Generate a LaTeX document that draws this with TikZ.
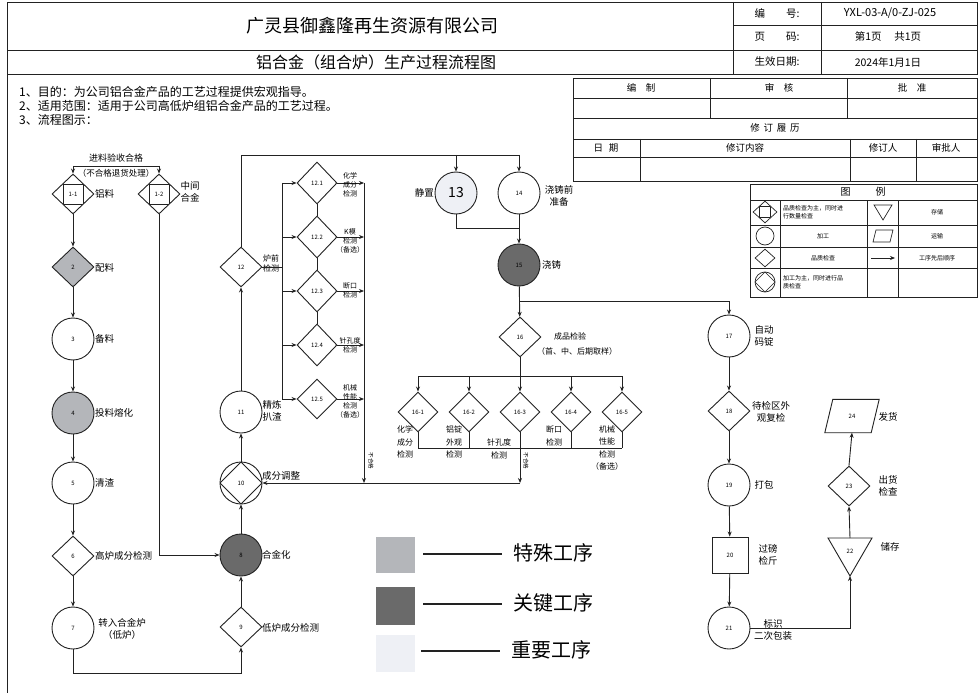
\documentclass[tikz,border=0pt]{standalone}
\usepackage{fontspec}
\setmainfont{Noto Sans CJK SC}
\usetikzlibrary{shapes.geometric,arrows.meta}
\definecolor{spec}{HTML}{B4B6BA}
\definecolor{keyc}{HTML}{6A6A6A}
\definecolor{imp}{HTML}{EEF0F5}
\definecolor{ink}{HTML}{222222}
\tikzset{
  ln/.style={draw=ink, line width=0.9pt},
  frm/.style={draw=ink, line width=0.8pt},
  arr/.style={ln, -{Stealth[length=5pt,width=4pt]}},
  num/.style={font=\fontsize{6}{6}\selectfont, inner sep=0pt},
  proc/.style={circle, draw=ink, line width=0.9pt, minimum size=42pt, inner sep=0pt, font=\fontsize{6}{6}\selectfont},
  insp/.style={diamond, draw=ink, line width=0.9pt, minimum width=42pt, minimum height=40pt, inner sep=0pt, font=\fontsize{6}{6}\selectfont},
  inspt/.style={insp, minimum width=40pt, minimum height=42pt},
  insq/.style={insp, path picture={\draw[ink, line width=0.8pt] ([shift={(-10pt,-10pt)}]path picture bounding box.center) rectangle ([shift={(10pt,10pt)}]path picture bounding box.center);}},
  pq/.style={proc, path picture={\draw[ink, line width=0.8pt] (path picture bounding box.north) -- (path picture bounding box.east) -- (path picture bounding box.south) -- (path picture bounding box.west) -- cycle;}},
  lab/.style={font=\fontsize{9.5}{11.5}\selectfont, align=center, inner sep=0pt},
  labs/.style={font=\fontsize{7}{9}\selectfont, align=center, inner sep=0pt},
  labm/.style={font=\fontsize{8}{12.5}\selectfont, align=center, inner sep=0pt},
  tb/.style={font=\fontsize{9.5}{9.5}\selectfont, inner sep=0pt},
  lg/.style={font=\fontsize{6}{7.5}\selectfont, align=left, inner sep=0pt},
  intro/.style={font=\fontsize{12}{12}\selectfont, anchor=west, inner sep=0pt},
  big/.style={font=\fontsize{20}{20}\selectfont, inner sep=0pt, anchor=west}
}
\begin{document}
\begin{tikzpicture}[x=1pt,y=-1pt]
\useasboundingbox (0,0) rectangle (979,695);
\fill[white] (0,0) rectangle (979,695);
% ---------- header ----------
\draw[frm] (7,2) rectangle (977,74);
\draw[frm] (7,50) -- (977,50);
\draw[frm] (733,2) -- (733,74) (821,2) -- (821,74) (733,25) -- (977,25);
\draw[frm] (7,74) -- (7,693);
\node[font=\fontsize{18}{18}\selectfont] (title) at (372,26) {广灵县御鑫隆再生资源有限公司};
\node[font=\fontsize{16}{16}\selectfont] (subtitle) at (376,62) {铝合金（组合炉）生产过程流程图};
\node[tb, font=\fontsize{10.5}{10.5}\selectfont] (h1) at (777,13) {编\hspace{2em}号:};
\node[tb, font=\fontsize{10.5}{10.5}\selectfont] (h2) at (777,37) {页\hspace{2em}码:};
\node[tb, font=\fontsize{10.5}{10.5}\selectfont] (h3) at (777,62) {生效日期:};
\node[tb, font=\fontsize{11}{11}\selectfont] (v1) at (890,13) {YXL-03-A/0-ZJ-025};
\node[tb, font=\fontsize{10.5}{10.5}\selectfont] (v2) at (888,37) {第1页\hspace{1.2em}共1页};
\node[tb, font=\fontsize{10.5}{10.5}\selectfont] (v3) at (888,62) {2024年1月1日};
% ---------- intro text ----------
\node[intro] (t1) at (19,92) {1、目的：为公司铝合金产品的工艺过程提供宏观指导。};
\node[intro] (t2) at (19,106) {2、适用范围：适用于公司高低炉组铝合金产品的工艺过程。};
\node[intro] (t3) at (19,120) {3、流程图示：};
% ---------- approval / revision table ----------
\draw[frm] (573,78) rectangle (977,181);
\draw[frm] (573,98) -- (977,98) (573,118) -- (977,118) (573,139) -- (977,139) (573,157) -- (977,157);
\draw[frm] (710,78) -- (710,118) (847,78) -- (847,118);
\draw[frm] (640,139) -- (640,181) (850,139) -- (850,181) (916,139) -- (916,181);
\node[tb] (a1) at (641,88) {编\hspace{1em}制};
\node[tb] (a2) at (779,88) {审\hspace{1em}核};
\node[tb] (a3) at (912,88) {批\hspace{1em}准};
\node[tb] (a4) at (775,128) {修\hspace{0.4em}订\hspace{0.4em}履\hspace{0.4em}历};
\node[tb] (a5) at (606,148) {日\hspace{0.6em}期};
\node[tb] (a6) at (745,148) {修订内容};
\node[tb] (a7) at (883,148) {修订人};
\node[tb] (a8) at (946,148) {审批人};
% ---------- legend table ----------
\draw[frm] (750,184) rectangle (977,297);
\draw[frm] (750,200) -- (977,200) (750,225) -- (977,225) (750,247) -- (977,247) (750,268) -- (977,268);
\draw[frm] (780,200) -- (780,297) (867,200) -- (867,297) (898,200) -- (898,297);
\node[tb,font=\fontsize{10}{10}\selectfont] (lgh) at (863,192) {图\hspace{2.5em}例};
\node[diamond, draw=ink, line width=0.7pt, minimum width=24pt, minimum height=22pt, inner sep=0pt,
      path picture={\draw[ink,line width=0.6pt] ([shift={(-5.5pt,-5.5pt)}]path picture bounding box.center) rectangle ([shift={(5.5pt,5.5pt)}]path picture bounding box.center);}] (lgs1) at (765,212) {};
\node[lg, anchor=west] (lgt1) at (783,212) {品质检查为主，同时进\\行数量检查};
\draw[ln, line width=0.7pt] (874,205) -- (892,205) -- (883,220) -- cycle;
\node[lg] (lgt1b) at (937,212) {存储};
\node[circle, draw=ink, line width=0.7pt, minimum size=18pt, inner sep=0pt] (lgs2) at (765,236) {};
\node[lg] (lgt2) at (823,236) {加工};
\draw[ln, line width=0.7pt] (876,230) -- (893,230) -- (890,242) -- (873,242) -- cycle;
\node[lg] (lgt2b) at (937,236) {运输};
\node[diamond, draw=ink, line width=0.7pt, minimum width=20pt, minimum height=18pt, inner sep=0pt] (lgs3) at (765,258) {};
\node[lg] (lgt3) at (823,258) {品质检查};
\coordinate (lga1) at (871,258); \coordinate (lga2) at (895,258);
\draw[arr, line width=0.7pt] (lga1) -- (lga2);
\node[lg] (lgt3b) at (937,258) {工序先后顺序};
\node[circle, draw=ink, line width=0.7pt, minimum size=20pt, inner sep=0pt,
      path picture={\draw[ink,line width=0.6pt] (path picture bounding box.north) -- (path picture bounding box.east) -- (path picture bounding box.south) -- (path picture bounding box.west) -- cycle;}] (lgs4) at (765,282) {};
\node[lg, anchor=west] (lgt4) at (783,282) {加工为主，同时进行品\\质检查};
% ---------- left column ----------
\coordinate (brL) at (73,166); \coordinate (brR) at (159,166);
\draw[ln] (brL) -- (brR);
\node[insq] (n1a) at (73,194) {1-1};
\node[insq] (n1b) at (159,194) {1-2};
\draw[arr] (brL) -- (n1a.north);
\draw[arr] (brR) -- (n1b.north);
\node[lab, font=\fontsize{9}{9}\selectfont] (brt1) at (116,158) {进料验收合格};
\node[lab, font=\fontsize{8.5}{9}\selectfont] (brt2) at (116,173) {（不合格退货处理）};
\node[lab, anchor=west] (l1a) at (95,194) {铝料};
\node[lab] (l1b) at (190,192) {中间\\合金};
\node[insp, fill=spec] (n2) at (73,267) {2};
\node[lab, anchor=west] (l2) at (95,268) {配料};
\node[proc] (n3) at (73,339) {3};
\node[lab, anchor=west] (l3) at (95,339) {备料};
\node[proc, fill=spec] (n4) at (73,413) {4};
\node[lab, anchor=west] (l4) at (95,413) {投料熔化};
\node[proc] (n5) at (73,483) {5};
\node[lab, anchor=west] (l5) at (95,483) {清渣};
\node[insp] (n6) at (73,556) {6};
\node[lab, anchor=west] (l6) at (95,556) {高炉成分检测};
\node[proc] (n7) at (73,628) {7};
\node[lab] (l7) at (122,629) {转入合金炉\\（低炉）};
\draw[arr] (n1a) -- (n2);
\draw[arr] (n2) -- (n3);
\draw[arr] (n3) -- (n4);
\draw[arr] (n4) -- (n5);
\draw[arr] (n5) -- (n6);
\draw[arr] (n6) -- (n7);
% ---------- second column ----------
\node[insp] (n9) at (241,627) {9};
\node[lab, anchor=west] (l9) at (262,628) {低炉成分检测};
\node[proc, fill=keyc] (n8) at (241,555) {8};
\node[lab, anchor=west] (l8) at (262,555) {合金化};
\node[pq] (n10) at (241,483) {10};
\node[lab, anchor=west] (l10) at (262,476) {成分调整};
\node[proc] (n11) at (241,412) {11};
\node[lab] (l11) at (272,411) {精炼\\扒渣};
\node[insp] (n12) at (241,267) {12};
\node[labs, font=\fontsize{8}{10}\selectfont] (l12) at (271,263) {炉前\\检测};
\coordinate (b7) at (73,673);
\draw[arr] (n7.south) -- (b7) -| (n9.south);
\draw[arr] (n1b.south) |- (n8.west);
\draw[arr] (n9) -- (n8);
\draw[arr] (n8) -- (n10);
\draw[arr] (n10) -- (n11);
\draw[arr] (n11) -- (n12);
% ---------- furnace tests 12.x ----------
\node[inspt] (n121) at (317,183) {12.1};
\node[inspt] (n122) at (317,237) {12.2};
\node[inspt] (n123) at (317,291) {12.3};
\node[inspt] (n124) at (317,345) {12.4};
\node[inspt, minimum height=40pt] (n125) at (317,399) {12.5};
\draw[ln] (n121.south) -- (n122.north);
\draw[ln] (n122.south) -- (n123.north);
\draw[ln] (n123.south) -- (n124.north);
\coordinate (v12t) at (282,183); \coordinate (v12b) at (282,399);
\draw[ln] (n12.east) -- (v12t |- n12);
\draw[ln] (v12t) -- (v12b);
\draw[arr] (v12t) -- (n121.west);
\draw[arr] (v12t |- n122) -- (n122.west);
\draw[arr] (v12t |- n123) -- (n123.west);
\draw[arr] (v12t |- n124) -- (n124.west);
\draw[arr] (v12b) -- (n125.west);
\coordinate (r12t) at (364,183); \coordinate (r12b) at (364,483);
\draw[arr] (n121.east) -- (r12t);
\draw[arr] (n122.east) -- (r12t |- n122);
\draw[arr] (n123.east) -- (r12t |- n123);
\draw[arr] (n124.east) -- (r12t |- n124);
\draw[arr] (n125.east) -- (r12t |- n125);
\draw[arr] (r12t) -- (r12b);
\node[labs] (l121) at (350,185) {化学\\成分\\检测};
\node[labs] (l122) at (350,241) {K模\\检测\\（备选）};
\node[labs] (l123) at (350,290) {断口\\检测};
\node[labs] (l124) at (350,345) {针孔度\\检测};
\node[labs] (l125) at (350,401) {机械\\性能\\检测\\（备选）};
\node[labs, font=\fontsize{5.5}{5.5}\selectfont, rotate=-90] (ng1) at (371,461) {不合格};
% ---------- top branch 13/14/15 ----------
\coordinate (tl) at (241,155); \coordinate (tr) at (519,155);
\draw[ln] (n12.north) -- (tl) -- (tr);
\node[proc, fill=imp, font=\fontsize{14}{14}\selectfont] (n13) at (456,193) {13};
\node[proc] (n14) at (519,193) {14};
\draw[arr] (tl -| n13) -- (n13.north);
\draw[arr] (tr) -- (n14.north);
\node[lab, anchor=east] (l13) at (434,193) {静置};
\node[lab] (l14) at (559,196) {浇铸前\\准备};
\coordinate (j13) at (519,228);
\draw[ln] (n13.south) |- (j13);
\node[proc, fill=keyc] (n15) at (519,265) {15};
\node[lab, anchor=west] (l15) at (542,265) {浇铸};
\draw[arr] (n14) -- (n15);
% ---------- product tests 16 ----------
\node[insp] (n16) at (520,337) {16};
\draw[arr] (n15) -- (n16);
\node[labm] (l16a) at (570,336) {成品检验};
\node[labm] (l16b) at (577,351) {（首、中、后期取样）};
\node[insp, minimum width=40pt] (n161) at (418,412) {16-1};
\node[insp, minimum width=40pt] (n162) at (469,412) {16-2};
\node[insp, minimum width=40pt] (n163) at (520,412) {16-3};
\node[insp, minimum width=40pt] (n164) at (571,412) {16-4};
\node[insp, minimum width=40pt] (n165) at (622,412) {16-5};
\coordinate (h16) at (520,376); \coordinate (b16) at (520,448); \coordinate (ret) at (520,483);
\draw[ln] (n16.south) -- (h16);
\draw[ln] (h16 -| n161) -- (h16 -| n165);
\foreach \k in {161,162,163,164,165} {
  \draw[arr] (h16 -| n\k) -- (n\k.north);
  \draw[ln] (n\k.south) -- (b16 -| n\k);
}
\draw[ln] (b16 -| n161) -- (b16 -| n165);
\draw[arr] (b16) -- (ret);
\draw[arr] (ret) -- (n10.east);
\node[labm] (l161) at (405,442) {化学\\成分\\检测};
\node[labm] (l162) at (454,442) {铝锭\\外观\\检测};
\node[labm] (l163) at (499,449) {针孔度\\检测};
\node[labm] (l164) at (554,436) {断口\\检测};
\node[labm] (l165) at (607,448) {机械\\性能\\检测\\（备选）};
\node[labs, font=\fontsize{5.5}{5.5}\selectfont, rotate=-90] (ng2) at (526,461) {不合格};
% ---------- right column ----------
\coordinate (j15) at (519,301);
\node[proc] (n17) at (729,336) {17};
\draw[arr] (j15) -| (n17.north);
\node[lab] (l17) at (764,336) {自动\\码锭};
\node[insp] (n18) at (729,411) {18};
\node[lab] (l18) at (771,412) {待检区外\\观复检};
\node[proc] (n19) at (729,485) {19};
\node[lab] (l19) at (764,485) {打包};
\node[rectangle, draw=ink, line width=0.9pt, minimum size=36pt, inner sep=0pt, font=\fontsize{6}{6}\selectfont] (n20) at (730,555) {20};
\node[lab] (l20) at (768,555) {过磅\\检斤};
\node[proc] (n21) at (729,628) {21};
\node[lab] (l21) at (773,630) {标识\\二次包装};
\draw[arr] (n17) -- (n18);
\draw[arr] (n18) -- (n19);
\draw[arr] (n19) -- (n20);
\draw[arr] (n20) -- (n21);
% storage / shipping
\coordinate (n22t) at (850,538); \coordinate (n22b) at (850,576);
\draw[ln] (828,538) -- (872,538) -- (n22b) -- cycle;
\node[num] (n22) at (850,551) {22};
\node[lab] (l22) at (890,547) {储存};
\node[insp] (n23) at (849,486) {23};
\node[lab] (l23) at (888,486) {出货\\检查};
\node[num, minimum width=46pt, minimum height=33pt] (n24) at (852,416) {24};
\draw[ln] ([xshift=4pt]n24.north west) -- ([xshift=4pt]n24.north east) -- ([xshift=-4pt]n24.south east) -- ([xshift=-4pt]n24.south west) -- cycle;
\node[lab] (l24) at (888,417) {发货};
\draw[arr] (n21.east) -| (n22b);
\draw[arr] (n22t) -- (n23.south);
\draw[arr] (n23.north) -- (n24.south);
% ---------- colour legend ----------
\fill[spec] (376,537) rectangle (415,573);
\fill[keyc] (376,587) rectangle (415,625);
\fill[imp] (376,635) rectangle (415,672);
\coordinate (c1a) at (423,554); \coordinate (c1b) at (502,554);
\coordinate (c2a) at (423,604); \coordinate (c2b) at (502,604);
\coordinate (c3a) at (421,651); \coordinate (c3b) at (500,651);
\draw[draw=ink, line width=2pt] (c1a) -- (c1b);
\draw[draw=ink, line width=2pt] (c2a) -- (c2b);
\draw[draw=ink, line width=2pt] (c3a) -- (c3b);
\node[big] (k1) at (513,553) {特殊工序};
\node[big] (k2) at (513,603) {关键工序};
\node[big] (k3) at (511,650) {重要工序};
\end{tikzpicture}
\end{document}
